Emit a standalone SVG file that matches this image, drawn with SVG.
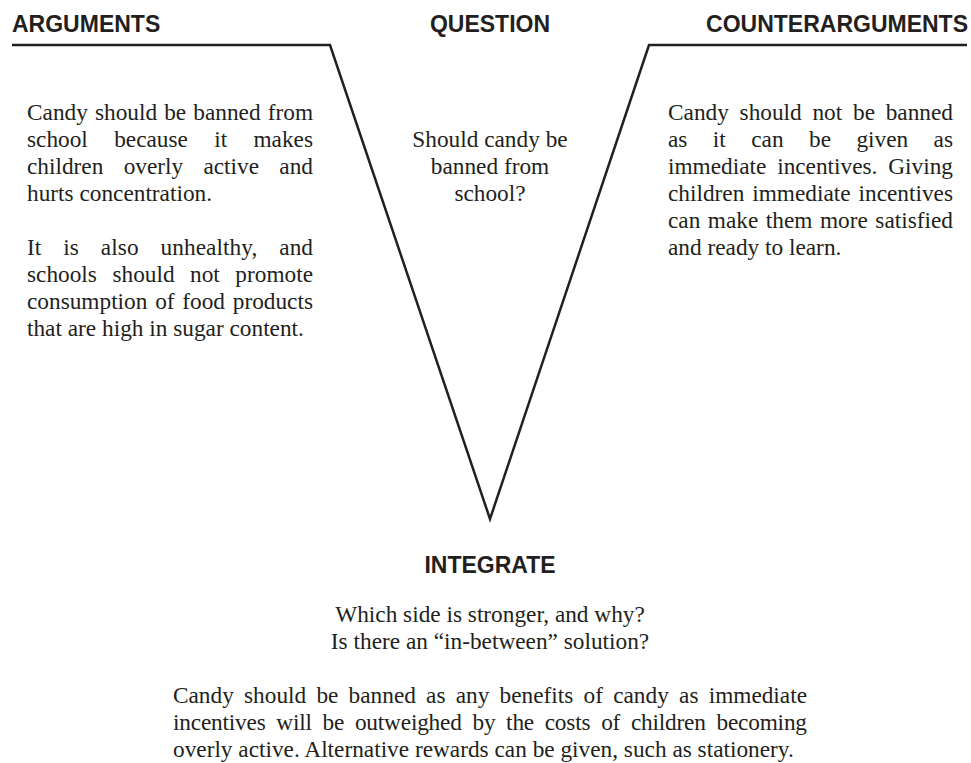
<svg xmlns="http://www.w3.org/2000/svg" width="971" height="763" viewBox="0 0 971 763">
<style>
.h{font-family:"Liberation Sans",Arial,sans-serif;font-weight:bold;font-size:23px;fill:#231f20}
.b{font-family:"Liberation Serif","Times New Roman",serif;font-size:23.3px;fill:#231f20}
.c{text-anchor:middle}
.ln{fill:none;stroke:#231f20;stroke-width:2.5;stroke-linejoin:miter}
</style>
<rect width="971" height="763" fill="#ffffff"/>
<g id="connectors">
<polyline class="ln" points="12,45 330,45 490,519 649,45 967,45"/>
</g>
<g id="arguments">
<text class="h" x="12" y="32">ARGUMENTS</text>
<text class="b" x="27" y="120" word-spacing="1.3" textLength="286" lengthAdjust="spacing">Candy should be banned from</text>
<text class="b" x="27" y="147" word-spacing="20.5" textLength="286" lengthAdjust="spacing">school because it makes</text>
<text class="b" x="27" y="174" word-spacing="14.5" textLength="286" lengthAdjust="spacing">children overly active and</text>
<text class="b" x="27" y="201">hurts concentration.</text>
<text class="b" x="27" y="255" word-spacing="16" textLength="286" lengthAdjust="spacing">It is also unhealthy, and</text>
<text class="b" x="27" y="282" word-spacing="9.7" textLength="286" lengthAdjust="spacing">schools should not promote</text>
<text class="b" x="27" y="309" word-spacing="1.9" textLength="286" lengthAdjust="spacing">consumption of food products</text>
<text class="b" x="27" y="336">that are high in sugar content.</text>
</g>
<g id="question">
<text class="h c" x="490" y="32">QUESTION</text>
<text class="b c" x="490" y="147">Should candy be</text>
<text class="b c" x="490" y="174">banned from</text>
<text class="b c" x="490" y="201">school?</text>
</g>
<g id="counterarguments">
<text class="h" x="968" y="32" text-anchor="end">COUNTERARGUMENTS</text>
<text class="b" x="668" y="120" word-spacing="4.9" textLength="285" lengthAdjust="spacing">Candy should not be banned</text>
<text class="b" x="668" y="147" word-spacing="19.6" textLength="285" lengthAdjust="spacing">as it can be given as</text>
<text class="b" x="668" y="174" word-spacing="5" textLength="285" lengthAdjust="spacing">immediate incentives. Giving</text>
<text class="b" x="668" y="201" word-spacing="2.1" textLength="285" lengthAdjust="spacing">children immediate incentives</text>
<text class="b" x="668" y="228" word-spacing="1.7" textLength="285" lengthAdjust="spacing">can make them more satisfied</text>
<text class="b" x="668" y="255">and ready to learn.</text>
</g>
<g id="integrate">
<text class="h c" x="490" y="573">INTEGRATE</text>
<text class="b c" x="490" y="622">Which side is stronger, and why?</text>
<text class="b c" x="490" y="649">Is there an “in-between” solution?</text>
<text class="b" x="173" y="703" word-spacing="4.4" textLength="634" lengthAdjust="spacing">Candy should be banned as any benefits of candy as immediate</text>
<text class="b" x="173" y="730" word-spacing="5.1" textLength="634" lengthAdjust="spacing">incentives will be outweighed by the costs of children becoming</text>
<text class="b" x="173" y="757">overly active. Alternative rewards can be given, such as stationery.</text>
</g>
</svg>
